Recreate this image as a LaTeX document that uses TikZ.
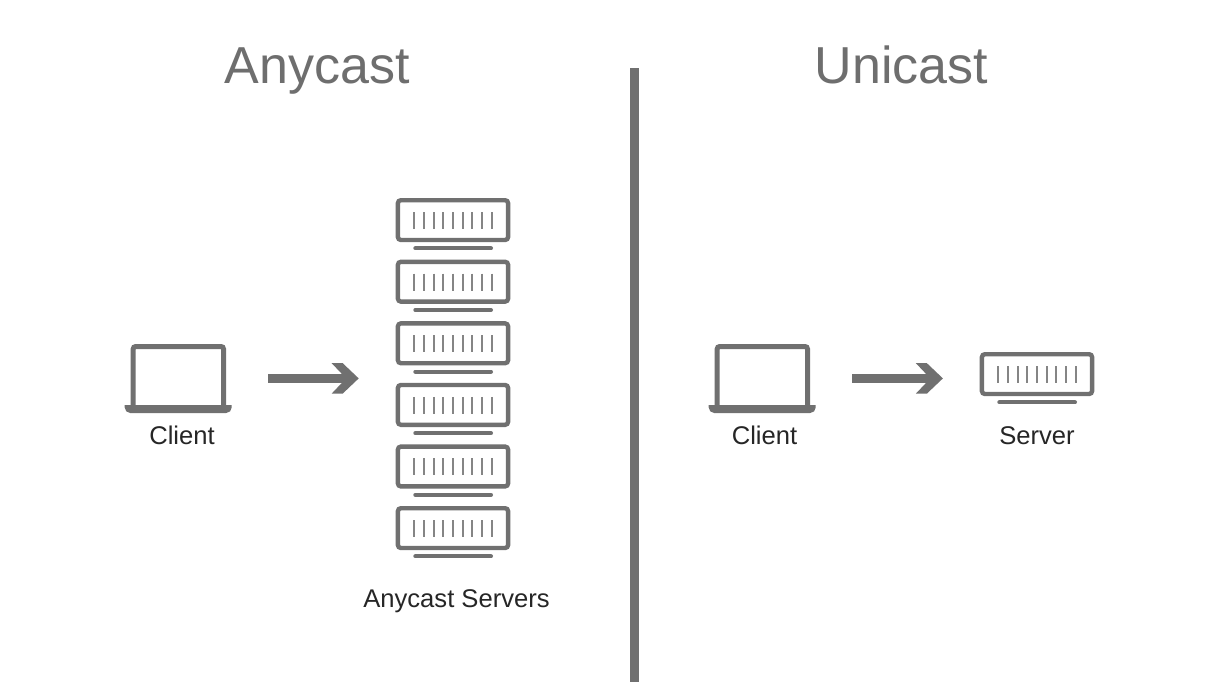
\documentclass[tikz,border=0pt]{standalone}
\usepackage{fontspec}
\setmainfont{Liberation Sans}
\usetikzlibrary{arrows.meta}
\definecolor{icon}{HTML}{707070}
\definecolor{titlegray}{HTML}{6E6E6E}
\definecolor{labelink}{HTML}{262626}
\pgfdeclarearrow{
  name=Chevron,
  setup code={
    \pgfarrowssettipend{0pt}
    \pgfarrowssetlineend{-8pt}
    \pgfarrowssetbackend{-27pt}
    \pgfarrowssetvisualbackend{-8pt}
  },
  drawing code={
    \pgfpathmoveto{\pgfqpoint{0pt}{0pt}}
    \pgfpathlineto{\pgfqpoint{-16pt}{15.2pt}}
    \pgfpathlineto{\pgfqpoint{-27pt}{15.2pt}}
    \pgfpathlineto{\pgfqpoint{-16.7pt}{4.35pt}}
    \pgfpathlineto{\pgfqpoint{-16.7pt}{-4.35pt}}
    \pgfpathlineto{\pgfqpoint{-27pt}{-15.2pt}}
    \pgfpathlineto{\pgfqpoint{-16pt}{-15.2pt}}
    \pgfpathclose
    \pgfusepathqfill
  }
}
\tikzset{
  x=1pt, y=-1pt,
  box/.style={inner sep=0pt, outer sep=0pt, minimum width=#1},
  title/.style={text=titlegray, font=\fontsize{52}{58}\selectfont, inner sep=0pt, anchor=base},
  label/.style={text=labelink, font=\fontsize{25.6}{30}\selectfont, inner sep=0pt, anchor=base},
  flow/.style={color=icon, line width=8.7pt, -{Chevron}, shorten <=36.3pt, shorten >=37pt},
  server/.pic={
    \draw[icon, line width=4.4pt, rounded corners=3pt] (2.2,2.2) rectangle (112.4,42);
    \foreach \i in {0,...,8}
      \draw[icon!85, line width=2.2pt] (18.6+\i*9.67,14) -- (18.6+\i*9.67,31);
    \draw[icon, line width=4pt, line cap=round] (19.6,50.4) -- (95.3,50.4);
  },
  laptop/.pic={
    \draw[icon, line width=5pt, rounded corners=2.5pt] (8.5,63) |- (98.8,2.5) -- (98.8,63);
    \fill[icon] (0,61) -- (107,61) -- (107,63.5) arc[start angle=0,end angle=90,radius=5.5] -- (5.5,69) arc[start angle=90,end angle=180,radius=5.5] -- cycle;
  }
}
\begin{document}
\begin{tikzpicture}
\useasboundingbox (0,0) rectangle (1224,682);
\fill[white] (0,0) rectangle (1224,682);
\node[title] (t1) at (317,84) {Anycast};
\node[title] (t2) at (901.5,84) {Unicast};
\fill[icon] (630.3,68) rectangle (639.4,682);
% Anycast
\node[box=107pt, minimum height=69pt] (clientA) at (178.2,378.4) {};
\pic at (124.7,344) {laptop};
\node[label] (lblA) at (182,444.5) {Client};
\node[box=114.6pt, minimum height=360.4pt] (stack) at (453,378.4) {};
\foreach \n in {0,...,5} \pic at (395.7,198+\n*61.6) {server};
\node[label] (lblS) at (456.5,607.5) {Anycast Servers};
\draw[flow] (clientA.east) -- (stack.west);
% Unicast
\node[box=107pt, minimum height=69pt] (clientU) at (762.2,378.4) {};
\pic at (708.7,344) {laptop};
\node[label] (lblB) at (764.5,444.5) {Client};
\node[box=114.6pt, minimum height=52.6pt] (srv) at (1037.2,378.4) {};
\pic at (979.7,352) {server};
\node[label] (lblC) at (1037,444.5) {Server};
\draw[flow] (clientU.east) -- (srv.west);
\end{tikzpicture}
\end{document}
